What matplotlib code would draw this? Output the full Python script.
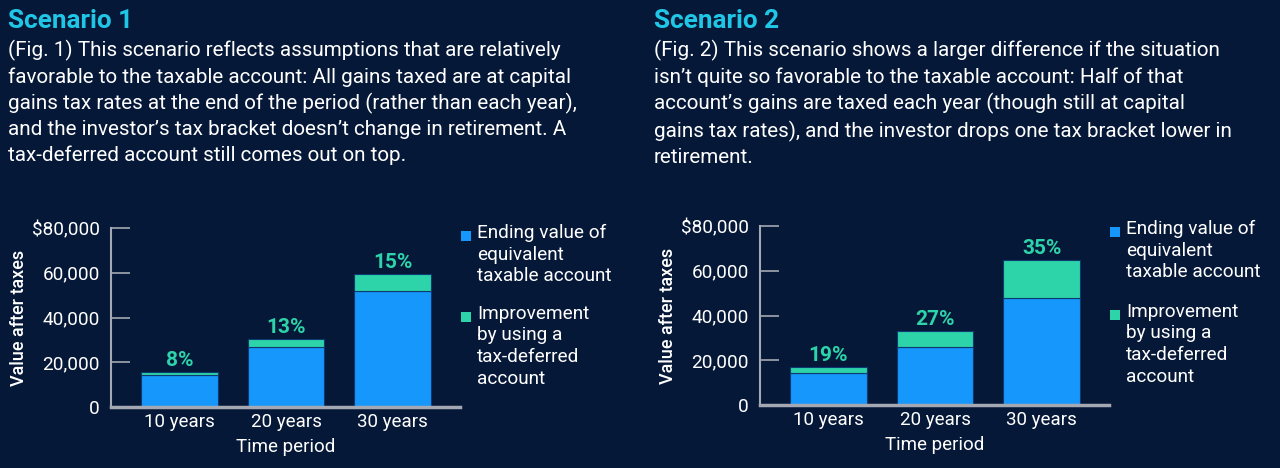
import matplotlib
matplotlib.use('Agg')
import matplotlib.pyplot as plt
from matplotlib.patches import Rectangle

# ---- data ----
periods = ['10 years', '20 years', '30 years']
s1_taxable = [14300, 26800, 51800]
s1_improve = [1150, 3500, 7800]
s1_pct = ['8%', '13%', '15%']
s2_taxable = [14300, 25900, 48000]
s2_improve = [2700, 7000, 16800]
s2_pct = ['19%', '27%', '35%']
yticks = [0, 20000, 40000, 60000, 80000]
ytick_labels = ['0', '20,000', '40,000', '60,000', '$80,000']
legend_labels = ['Ending value of\nequivalent\ntaxable account',
                 'Improvement\nby using a\ntax-deferred\naccount']

titles = ['Scenario 1', 'Scenario 2']
bodies = [
    "(Fig. 1) This scenario reflects assumptions that are relatively\n"
    "favorable to the taxable account: All gains taxed are at capital\n"
    "gains tax rates at the end of the period (rather than each year),\n"
    "and the investor\u2019s tax bracket doesn\u2019t change in retirement. A\n"
    "tax-deferred account still comes out on top.",
    "(Fig. 2) This scenario shows a larger difference if the situation\n"
    "isn\u2019t quite so favorable to the taxable account: Half of that\n"
    "account\u2019s gains are taxed each year (though still at capital\n"
    "gains tax rates), and the investor drops one tax bracket lower in\n"
    "retirement.",
]

BG = '#061838'
BLUE = '#1597fb'
GREEN = '#2dd3a9'
CYAN = '#1fc6e6'
GRAY = '#a3a8b2'

plt.rcParams['font.family'] = ['Roboto', 'DejaVu Sans']

W, H = 1280, 468
fig = plt.figure(figsize=(W / 100, H / 100), dpi=100, facecolor=BG)


def px_axes(left, right, y0, ytop):
    return fig.add_axes([left / W, (H - y0) / H, (right - left) / W, (y0 - ytop) / H])


panels = [
    dict(x0=8, ax=(111, 460, 407, 228), leg_x=460, leg_y=(236, 317),
         taxable=s1_taxable, improve=s1_improve, pct=s1_pct),
    dict(x0=654, ax=(760, 1109, 405, 226), leg_x=1109, leg_y=(232, 315),
         taxable=s2_taxable, improve=s2_improve, pct=s2_pct),
]

for i, p in enumerate(panels):
    fig.text(p['x0'] / W, 1 - 9 / H, titles[i], color=CYAN, fontsize=18.8,
             fontweight='bold', va='top', ha='left')
    fig.text(p['x0'] / W, 1 - 40 / H, bodies[i], color='white', fontsize=14.9,
             va='top', ha='left', linespacing=1.40)

    ax = px_axes(*p['ax'])
    ax.set_facecolor(BG)
    x = range(len(periods))
    ax.bar(x, p['taxable'], width=0.72, color=BLUE, edgecolor='#0b3b70', linewidth=0.8)
    tops = [a + b for a, b in zip(p['taxable'], p['improve'])]
    ax.bar(x, p['improve'], bottom=p['taxable'], width=0.72, color=GREEN,
           edgecolor='#0b3b70', linewidth=0.8)
    for xi, t, lab in zip(x, tops, p['pct']):
        ax.annotate(lab, (xi, t), xytext=(0, 1.5), textcoords='offset points',
                    ha='center', va='bottom', color=GREEN, fontsize=15, fontweight='bold')

    ax.set_xlim(-0.64, 2.63)
    ax.set_ylim(0, 80000)
    ax.set_yticks(yticks)
    ax.set_yticklabels(ytick_labels)
    ax.set_xticks(list(x))
    ax.set_xticklabels(periods)
    for s in ['top', 'right']:
        ax.spines[s].set_visible(False)
    ax.spines['left'].set_color(GRAY)
    ax.spines['left'].set_linewidth(1.5)
    ax.spines['bottom'].set_color(GRAY)
    ax.spines['bottom'].set_linewidth(2.5)
    ax.tick_params(axis='y', direction='in', length=14, width=1.2, color=GRAY,
                   labelcolor='white', labelsize=13.7, pad=8)
    ax.tick_params(axis='x', length=0, labelcolor='white', labelsize=13.5, pad=4)
    ax.set_xlabel('Time period', color='white', fontsize=13.5, labelpad=5)
    ax.set_ylabel('Value after taxes', color='white', fontsize=13, fontweight='medium', labelpad=2.5)

    # legend: square aligned with first line of each label
    for color, lab, yc in zip([BLUE, GREEN], legend_labels, p['leg_y']):
        fig.add_artist(Rectangle(((p['leg_x'] + 1) / W, (H - yc - 5) / H), 10 / W, 10 / H,
                                 transform=fig.transFigure, facecolor=color, edgecolor='none'))
        fig.text((p['leg_x'] + 17) / W, 1 - (yc - 12) / H, lab, color='white',
                 fontsize=13.7, va='top', ha='left', linespacing=1.25)

fig.savefig('out.png', dpi=100, facecolor=BG)
